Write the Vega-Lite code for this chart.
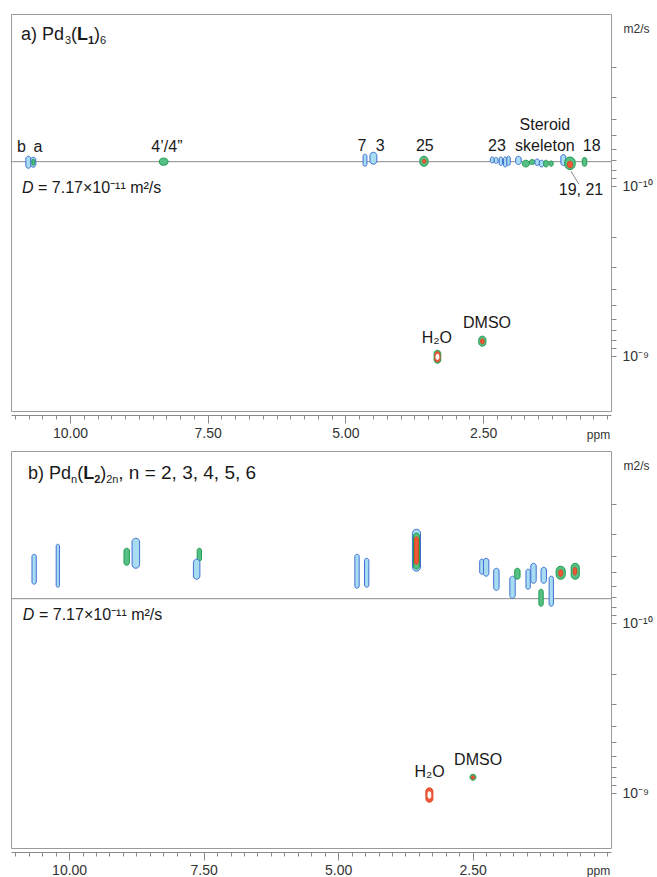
{
  "$schema": "https://vega.github.io/schema/vega-lite/v6.json",
  "background": "white",
  "padding": {"left": 10, "top": 13, "right": 0, "bottom": 0},
  "autosize": {"type": "pad"},
  "spacing": 9,
  "config": {
    "font": "Liberation Sans",
    "view": {"stroke": "#9a9a9a", "strokeWidth": 1},
    "text": {"font": "Liberation Sans", "color": "#1a1a1a"},
    "axis": {"grid": false, "labelFont": "Liberation Sans", "titleFont": "Liberation Sans", "labelColor": "#333333", "titleColor": "#333333", "tickColor": "#8a8a8a", "domainColor": "#8a8a8a"}
  },
  "datasets": {
    "sigA": [
      {"ppm": 10.80, "ppm2": 10.71, "D": 6.66e-11, "D2": 7.84e-11, "lvl": "1"},
      {"ppm": 10.71, "ppm2": 10.62, "D": 6.75e-11, "D2": 7.73e-11, "lvl": "1"},
      {"ppm": 10.69, "ppm2": 10.64, "D": 6.94e-11, "D2": 7.52e-11, "lvl": "2"},
      {"ppm": 8.38, "ppm2": 8.22, "D": 6.84e-11, "D2": 7.52e-11, "lvl": "2"},
      {"ppm": 4.68, "ppm2": 4.61, "D": 6.48e-11, "D2": 7.63e-11, "lvl": "1"},
      {"ppm": 4.555, "ppm2": 4.43, "D": 6.31e-11, "D2": 7.42e-11, "lvl": "1"},
      {"ppm": 3.65, "ppm2": 3.50, "D": 6.66e-11, "D2": 7.63e-11, "lvl": "2"},
      {"ppm": 3.60, "ppm2": 3.54, "D": 6.94e-11, "D2": 7.32e-11, "lvl": "3"},
      {"ppm": 2.37, "ppm2": 2.30, "D": 6.73e-11, "D2": 7.29e-11, "lvl": "1"},
      {"ppm": 2.30, "ppm2": 2.23, "D": 6.78e-11, "D2": 7.35e-11, "lvl": "1"},
      {"ppm": 2.21, "ppm2": 2.15, "D": 6.73e-11, "D2": 7.55e-11, "lvl": "1"},
      {"ppm": 2.13, "ppm2": 2.07, "D": 6.73e-11, "D2": 7.70e-11, "lvl": "1"},
      {"ppm": 2.07, "ppm2": 2.01, "D": 6.66e-11, "D2": 7.55e-11, "lvl": "1"},
      {"ppm": 1.91, "ppm2": 1.81, "D": 6.66e-11, "D2": 7.45e-11, "lvl": "1"},
      {"ppm": 1.79, "ppm2": 1.66, "D": 7.03e-11, "D2": 7.70e-11, "lvl": "2"},
      {"ppm": 1.66, "ppm2": 1.56, "D": 6.97e-11, "D2": 7.45e-11, "lvl": "2"},
      {"ppm": 1.56, "ppm2": 1.48, "D": 6.91e-11, "D2": 7.55e-11, "lvl": "1"},
      {"ppm": 1.48, "ppm2": 1.40, "D": 7.03e-11, "D2": 7.70e-11, "lvl": "1"},
      {"ppm": 1.40, "ppm2": 1.32, "D": 7.03e-11, "D2": 7.70e-11, "lvl": "2"},
      {"ppm": 1.30, "ppm2": 1.23, "D": 7.10e-11, "D2": 7.63e-11, "lvl": "2"},
      {"ppm": 1.09, "ppm2": 1.00, "D": 6.51e-11, "D2": 7.55e-11, "lvl": "1"},
      {"ppm": 1.02, "ppm2": 0.83, "D": 6.73e-11, "D2": 7.98e-11, "lvl": "2"},
      {"ppm": 0.97, "ppm2": 0.88, "D": 7.13e-11, "D2": 7.80e-11, "lvl": "3"},
      {"ppm": 0.70, "ppm2": 0.62, "D": 6.78e-11, "D2": 7.63e-11, "lvl": "2"},
      {"ppm": 3.39, "ppm2": 3.27, "D": 9.22e-10, "D2": 1.10e-9, "lvl": "2"},
      {"ppm": 3.375, "ppm2": 3.285, "D": 9.40e-10, "D2": 1.08e-9, "lvl": "3"},
      {"ppm": 3.355, "ppm2": 3.305, "D": 9.75e-10, "D2": 1.045e-9, "lvl": "w"},
      {"ppm": 2.58, "ppm2": 2.45, "D": 7.62e-10, "D2": 8.73e-10, "lvl": "2"},
      {"ppm": 2.545, "ppm2": 2.485, "D": 7.90e-10, "D2": 8.45e-10, "lvl": "3"}
    ],
    "sigB": [
      {"ppm": 10.69, "ppm2": 10.61, "D": 3.93e-11, "D2": 5.89e-11, "lvl": "1"},
      {"ppm": 10.24, "ppm2": 10.18, "D": 3.43e-11, "D2": 6.14e-11, "lvl": "1"},
      {"ppm": 8.98, "ppm2": 8.88, "D": 3.62e-11, "D2": 4.56e-11, "lvl": "2"},
      {"ppm": 8.83, "ppm2": 8.69, "D": 3.16e-11, "D2": 4.75e-11, "lvl": "1"},
      {"ppm": 7.62, "ppm2": 7.54, "D": 3.62e-11, "D2": 4.31e-11, "lvl": "2"},
      {"ppm": 7.69, "ppm2": 7.57, "D": 4.20e-11, "D2": 5.51e-11, "lvl": "1"},
      {"ppm": 4.69, "ppm2": 4.61, "D": 3.93e-11, "D2": 6.22e-11, "lvl": "1"},
      {"ppm": 4.51, "ppm2": 4.43, "D": 4.15e-11, "D2": 6.14e-11, "lvl": "1"},
      {"ppm": 3.62, "ppm2": 3.47, "D": 2.80e-11, "D2": 4.94e-11, "lvl": "1"},
      {"ppm": 3.60, "ppm2": 3.49, "D": 2.95e-11, "D2": 4.80e-11, "lvl": "2"},
      {"ppm": 3.58, "ppm2": 3.51, "D": 3.10e-11, "D2": 4.50e-11, "lvl": "3"},
      {"ppm": 2.37, "ppm2": 2.29, "D": 4.20e-11, "D2": 5.15e-11, "lvl": "1"},
      {"ppm": 2.30, "ppm2": 2.20, "D": 4.15e-11, "D2": 5.29e-11, "lvl": "1"},
      {"ppm": 2.11, "ppm2": 2.01, "D": 4.75e-11, "D2": 6.40e-11, "lvl": "1"},
      {"ppm": 1.81, "ppm2": 1.71, "D": 5.29e-11, "D2": 7.13e-11, "lvl": "1"},
      {"ppm": 1.72, "ppm2": 1.62, "D": 4.75e-11, "D2": 5.51e-11, "lvl": "2"},
      {"ppm": 1.51, "ppm2": 1.43, "D": 4.81e-11, "D2": 6.31e-11, "lvl": "1"},
      {"ppm": 1.42, "ppm2": 1.32, "D": 4.44e-11, "D2": 5.82e-11, "lvl": "1"},
      {"ppm": 1.23, "ppm2": 1.13, "D": 4.69e-11, "D2": 5.82e-11, "lvl": "1"},
      {"ppm": 1.27, "ppm2": 1.19, "D": 6.31e-11, "D2": 7.94e-11, "lvl": "2"},
      {"ppm": 1.08, "ppm2": 1.00, "D": 5.29e-11, "D2": 7.94e-11, "lvl": "1"},
      {"ppm": 0.95, "ppm2": 0.78, "D": 4.62e-11, "D2": 5.51e-11, "lvl": "2"},
      {"ppm": 0.90, "ppm2": 0.83, "D": 4.85e-11, "D2": 5.30e-11, "lvl": "3"},
      {"ppm": 0.67, "ppm2": 0.52, "D": 4.44e-11, "D2": 5.51e-11, "lvl": "2"},
      {"ppm": 0.63, "ppm2": 0.57, "D": 4.70e-11, "D2": 5.20e-11, "lvl": "3"},
      {"ppm": 3.37, "ppm2": 3.24, "D": 9.30e-10, "D2": 1.13e-9, "lvl": "3"},
      {"ppm": 3.33, "ppm2": 3.28, "D": 9.80e-10, "D2": 1.07e-9, "lvl": "w"},
      {"ppm": 2.55, "ppm2": 2.44, "D": 7.73e-10, "D2": 8.39e-10, "lvl": "2"},
      {"ppm": 2.525, "ppm2": 2.465, "D": 7.90e-10, "D2": 8.25e-10, "lvl": "3"}
    ]
  },
  "vconcat": [
    {
      "width": 600,
      "height": 397,
      "encoding": {
        "x": {"field": "ppm", "type": "quantitative",
          "scale": {"domain": [0.18, 11.07], "reverse": true, "nice": false, "zero": false},
          "axis": {"orient": "bottom", "offset": 4,
            "values": [11, 10.75, 10.5, 10.25, 10, 9.75, 9.5, 9.25, 9, 8.75, 8.5, 8.25, 8, 7.75, 7.5, 7.25, 7, 6.75, 6.5, 6.25, 6, 5.75, 5.5, 5.25, 5, 4.75, 4.5, 4.25, 4, 3.75, 3.5, 3.25, 3, 2.75, 2.5, 2.25, 2, 1.75, 1.5, 1.25, 1, 0.75, 0.5, 0.25],
            "tickSize": {"condition": {"test": "abs(datum.value % 2.5) < 0.01 && datum.value > 0.1", "value": 8}, "value": 4},
            "labelExpr": "abs(datum.value % 2.5) < 0.01 && datum.value > 0.1 ? format(datum.value, '.2f') : ''",
            "labelFontSize": 14, "labelPadding": 3, "labelOverlap": false, "labelFlush": false,
            "title": "ppm", "titleFontSize": 12, "titleFontWeight": "normal", "titleX": 587, "titleY": 19, "titleAlign": "center", "titleBaseline": "middle"}},
        "y": {"field": "D", "type": "quantitative",
          "scale": {"type": "log", "domain": [9.7e-12, 2.1e-9], "reverse": true, "nice": false},
          "axis": {"orient": "right", "domain": false, "tickSize": 5,
            "values": [2e-11, 3e-11, 4e-11, 5e-11, 6e-11, 7e-11, 8e-11, 9e-11, 1e-10, 2e-10, 3e-10, 4e-10, 5e-10, 6e-10, 7e-10, 8e-10, 9e-10, 1e-9],
            "labelExpr": "datum.value == 1e-10 ? '10⁻¹⁰' : (datum.value == 1e-9 ? '10⁻⁹' : '')",
            "labelFontSize": 14, "labelPadding": 6, "labelOverlap": false,
            "title": "m2/s", "titleAngle": 0, "titleFontSize": 12, "titleFontWeight": "normal", "titleX": 25, "titleY": 14, "titleAlign": "center", "titleBaseline": "middle"}}
      },
      "layer": [
        {"data": {"values": [{"ppm": 11.07, "ppm2": 0.18, "D": 7.17e-11}]},
          "mark": {"type": "rule", "color": "#8a8a8a", "strokeWidth": 1},
          "encoding": {"x2": {"field": "ppm2"}}},
        {"data": {"name": "sigA"},
          "mark": {"type": "rect", "cornerRadius": 40, "strokeWidth": 1},
          "encoding": {
            "x2": {"field": "ppm2"}, "y2": {"field": "D2"},
            "fill": {"field": "lvl", "type": "nominal", "legend": null, "scale": {"domain": ["1", "2", "3", "w"], "range": ["#a8dcf0", "#56bf86", "#ee5a3c", "#ffffff"]}},
            "stroke": {"field": "lvl", "type": "nominal", "legend": null, "scale": {"domain": ["1", "2", "3", "w"], "range": ["#3f6fd6", "#1e9a4c", "#e0451f", "#ffffff"]}}
          }},
        {"data": {"values": [{"ppm": 0.907, "ppm2": 0.762, "D": 8.16e-11, "D2": 9.73e-11}]},
          "mark": {"type": "rule", "color": "#8a8a8a", "strokeWidth": 1},
          "encoding": {"x2": {"field": "ppm2"}, "y2": {"field": "D2"}}},
        {"data": {"values": [
            {"t": "b", "ppm": 10.88, "D": 6.3e-11},
            {"t": "a", "ppm": 10.58, "D": 6.3e-11},
            {"t": "4’/4”", "ppm": 8.24, "D": 6.3e-11},
            {"t": "7", "ppm": 4.70, "D": 6.22e-11},
            {"t": "3", "ppm": 4.37, "D": 6.22e-11},
            {"t": "25", "ppm": 3.56, "D": 6.22e-11},
            {"t": "23", "ppm": 2.25, "D": 6.22e-11},
            {"t": "skeleton", "ppm": 1.38, "D": 6.22e-11},
            {"t": "Steroid", "ppm": 1.38, "D": 4.68e-11},
            {"t": "18", "ppm": 0.53, "D": 6.22e-11},
            {"t": "19, 21", "ppm": 0.725, "D": 1.13e-10},
            {"t": "H₂O", "ppm": 3.34, "D": 8.38e-10},
            {"t": "DMSO", "ppm": 2.43, "D": 6.84e-10}
          ]},
          "mark": {"type": "text", "fontSize": 16, "align": "center", "baseline": "alphabetic"},
          "encoding": {"text": {"field": "t"}}},
        {"data": {"values": [{"t": "a) Pd", "ppm": 10.889, "D": 1.38e-11}, {"t": "(", "ppm": 9.981, "D": 1.38e-11}, {"t": ")", "ppm": 9.564, "D": 1.38e-11}]},
          "mark": {"type": "text", "fontSize": 18, "align": "left", "baseline": "alphabetic"},
          "encoding": {"text": {"field": "t"}}},
        {"data": {"values": [{"t": "3", "ppm": 10.09, "D": 1.46e-11}, {"t": "6", "ppm": 9.455, "D": 1.46e-11}]},
          "mark": {"type": "text", "fontSize": 11, "align": "left", "baseline": "alphabetic"},
          "encoding": {"text": {"field": "t"}}},
        {"data": {"values": [{"t": "L", "ppm": 9.872, "D": 1.38e-11}]},
          "mark": {"type": "text", "fontSize": 18, "fontWeight": "bold", "align": "left", "baseline": "alphabetic"},
          "encoding": {"text": {"field": "t"}}},
        {"data": {"values": [{"t": "1", "ppm": 9.673, "D": 1.46e-11}]},
          "mark": {"type": "text", "fontSize": 11, "fontWeight": "bold", "align": "left", "baseline": "alphabetic"},
          "encoding": {"text": {"field": "t"}}},
        {"data": {"values": [{"t": "= 7.17×10⁻¹¹ m²/s", "ppm": 10.58, "D": 1.095e-10}]},
          "mark": {"type": "text", "fontSize": 16, "align": "left", "baseline": "alphabetic"},
          "encoding": {"text": {"field": "t"}}},
        {"data": {"values": [{"t": "D", "ppm": 10.87, "D": 1.095e-10}]},
          "mark": {"type": "text", "fontSize": 16, "fontStyle": "italic", "align": "left", "baseline": "alphabetic"},
          "encoding": {"text": {"field": "t"}}}
      ]
    },
    {
      "width": 600,
      "height": 397,
      "encoding": {
        "x": {"field": "ppm", "type": "quantitative",
          "scale": {"domain": [-0.07, 11.08], "reverse": true, "nice": false, "zero": false},
          "axis": {"orient": "bottom", "offset": 4,
            "values": [11, 10.75, 10.5, 10.25, 10, 9.75, 9.5, 9.25, 9, 8.75, 8.5, 8.25, 8, 7.75, 7.5, 7.25, 7, 6.75, 6.5, 6.25, 6, 5.75, 5.5, 5.25, 5, 4.75, 4.5, 4.25, 4, 3.75, 3.5, 3.25, 3, 2.75, 2.5, 2.25, 2, 1.75, 1.5, 1.25, 1, 0.75, 0.5, 0.25, 0],
            "tickSize": {"condition": {"test": "abs(datum.value % 2.5) < 0.01 && datum.value > 0.1", "value": 8}, "value": 4},
            "labelExpr": "abs(datum.value % 2.5) < 0.01 && datum.value > 0.1 ? format(datum.value, '.2f') : ''",
            "labelFontSize": 14, "labelPadding": 3, "labelOverlap": false, "labelFlush": false,
            "title": "ppm", "titleFontSize": 12, "titleFontWeight": "normal", "titleX": 587, "titleY": 18, "titleAlign": "center", "titleBaseline": "middle"}},
        "y": {"field": "D", "type": "quantitative",
          "scale": {"type": "log", "domain": [9.7e-12, 2.1e-9], "reverse": true, "nice": false},
          "axis": {"orient": "right", "domain": false, "tickSize": 5,
            "values": [2e-11, 3e-11, 4e-11, 5e-11, 6e-11, 7e-11, 8e-11, 9e-11, 1e-10, 2e-10, 3e-10, 4e-10, 5e-10, 6e-10, 7e-10, 8e-10, 9e-10, 1e-9],
            "labelExpr": "datum.value == 1e-10 ? '10⁻¹⁰' : (datum.value == 1e-9 ? '10⁻⁹' : '')",
            "labelFontSize": 14, "labelPadding": 6, "labelOverlap": false,
            "title": "m2/s", "titleAngle": 0, "titleFontSize": 12, "titleFontWeight": "normal", "titleX": 25, "titleY": 14, "titleAlign": "center", "titleBaseline": "middle"}}
      },
      "layer": [
        {"data": {"values": [{"ppm": 11.08, "ppm2": -0.07, "D": 7.17e-11}]},
          "mark": {"type": "rule", "color": "#8a8a8a", "strokeWidth": 1},
          "encoding": {"x2": {"field": "ppm2"}}},
        {"data": {"name": "sigB"},
          "mark": {"type": "rect", "cornerRadius": 40, "strokeWidth": 1},
          "encoding": {
            "x2": {"field": "ppm2"}, "y2": {"field": "D2"},
            "fill": {"field": "lvl", "type": "nominal", "legend": null, "scale": {"domain": ["1", "2", "3", "w"], "range": ["#a8dcf0", "#56bf86", "#ee5a3c", "#ffffff"]}},
            "stroke": {"field": "lvl", "type": "nominal", "legend": null, "scale": {"domain": ["1", "2", "3", "w"], "range": ["#3f6fd6", "#1e9a4c", "#e0451f", "#ffffff"]}}
          }},
        {"data": {"values": [
            {"t": "H₂O", "ppm": 3.30, "D": 8.05e-10},
            {"t": "DMSO", "ppm": 2.40, "D": 6.84e-10}
          ]},
          "mark": {"type": "text", "fontSize": 16, "align": "center", "baseline": "alphabetic"},
          "encoding": {"text": {"field": "t"}}},
        {"data": {"values": [{"t": "b) Pd", "ppm": 10.763, "D": 1.42e-11}, {"t": "(", "ppm": 9.851, "D": 1.42e-11}, {"t": ")", "ppm": 9.423, "D": 1.42e-11}]},
          "mark": {"type": "text", "fontSize": 18, "align": "left", "baseline": "alphabetic"},
          "encoding": {"text": {"field": "t"}}},
        {"data": {"values": [{"t": ", n = 2, 3, 4, 5, 6", "ppm": 9.087, "D": 1.42e-11}]},
          "mark": {"type": "text", "fontSize": 19, "align": "left", "baseline": "alphabetic"},
          "encoding": {"text": {"field": "t"}}},
        {"data": {"values": [{"t": "n", "ppm": 9.963, "D": 1.50e-11}, {"t": "2n", "ppm": 9.311, "D": 1.50e-11}]},
          "mark": {"type": "text", "fontSize": 11, "align": "left", "baseline": "alphabetic"},
          "encoding": {"text": {"field": "t"}}},
        {"data": {"values": [{"t": "L", "ppm": 9.739, "D": 1.42e-11}]},
          "mark": {"type": "text", "fontSize": 18, "fontWeight": "bold", "align": "left", "baseline": "alphabetic"},
          "encoding": {"text": {"field": "t"}}},
        {"data": {"values": [{"t": "2", "ppm": 9.534, "D": 1.50e-11}]},
          "mark": {"type": "text", "fontSize": 11, "fontWeight": "bold", "align": "left", "baseline": "alphabetic"},
          "encoding": {"text": {"field": "t"}}},
        {"data": {"values": [{"t": "= 7.17×10⁻¹¹ m²/s", "ppm": 10.56, "D": 9.6e-11}]},
          "mark": {"type": "text", "fontSize": 16, "align": "left", "baseline": "alphabetic"},
          "encoding": {"text": {"field": "t"}}},
        {"data": {"values": [{"t": "D", "ppm": 10.86, "D": 9.6e-11}]},
          "mark": {"type": "text", "fontSize": 16, "fontStyle": "italic", "align": "left", "baseline": "alphabetic"},
          "encoding": {"text": {"field": "t"}}}
      ]
    }
  ]
}
